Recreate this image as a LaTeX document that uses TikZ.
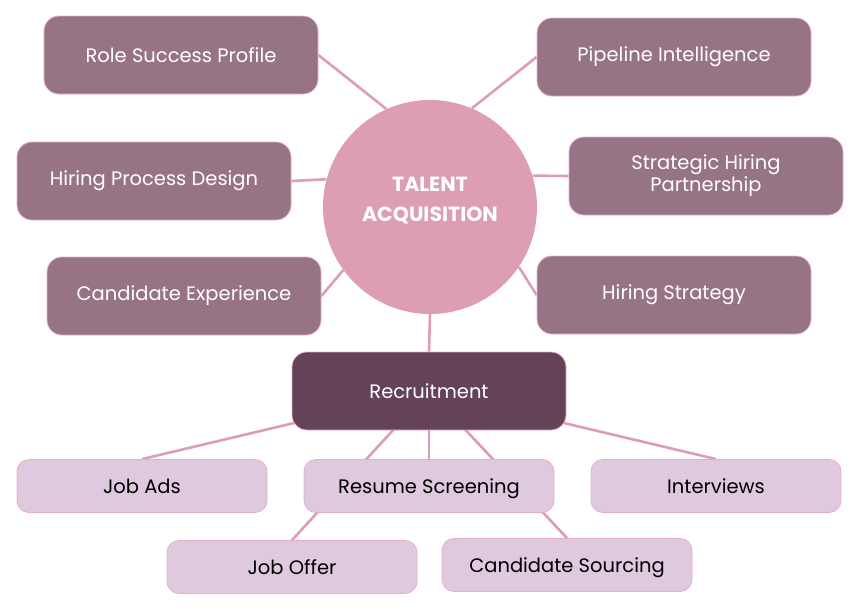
\documentclass[tikz,border=0pt]{standalone}
\usepackage{fontspec}
\setmainfont{Poppins}
\usetikzlibrary{backgrounds}

\definecolor{linkpink}{HTML}{DD9DB6}
\definecolor{hubpink}{HTML}{DC9DB5}
\definecolor{mauve}{HTML}{967486}
\definecolor{plum}{HTML}{644358}
\definecolor{lilac}{HTML}{DFC9DE}
\definecolor{rimpink}{HTML}{E6AFC6}

\begin{document}
\begin{tikzpicture}[x=1pt, y=-1pt,
    hub/.style={circle, fill=hubpink, minimum size=214pt},
    hubtext/.style={text=white, font=\fontsize{20.5}{30}\selectfont\bfseries, align=center},
    topic/.style={rectangle, rounded corners=15pt, fill=mauve, draw=rimpink,
        line width=0.8pt, minimum width=274pt, minimum height=78pt, text=white,
        font=\fontsize{19.5}{22}\selectfont, align=center},
    branch/.style={topic, fill=plum},
    leaf/.style={rectangle, rounded corners=12pt, fill=lilac, draw=rimpink,
        line width=0.8pt, minimum width=250pt, minimum height=53pt, text=black,
        text height=16pt, text depth=2pt, font=\fontsize{19.5}{22}\selectfont},
    link/.style={draw=linkpink, line width=2.6pt}]
    \useasboundingbox (0,0) rectangle (860,611);

    % Central topic
    \node[hub] (ta) at (430,207) {};
    \node[hubtext] (talbl) at (430,201) {TALENT\\ACQUISITION};

    % Topics round the circle
    \node[topic] (rsp) at (181,55) {Role Success Profile};
    \node[topic] (pint) at (674,57) {Pipeline Intelligence};
    \node[topic] (hpd) at (154,181) {Hiring Process Design};
    \node[topic] (shp) at (706,176) {Strategic Hiring\\Partnership};
    \node[topic] (cex) at (184,296) {Candidate Experience};
    \node[topic] (hst) at (674,295) {Hiring Strategy};

    % Recruitment and its steps
    \node[branch] (rec) at (429,391) {Recruitment};
    \node[leaf] (jads) at (142,486) {Job Ads};
    \node[leaf] (rscr) at (429,486) {Resume Screening};
    \node[leaf] (intv) at (716,486) {Interviews};
    \node[leaf] (joff) at (292,567) {Job Offer};
    \node[leaf] (csrc) at (567,565) {Candidate Sourcing};

    % Draw the links behind the boxes
    \begin{scope}[on background layer]
        \draw[link] (rsp.east) -- (ta.114);
        \draw[link] (pint.west) -- (ta.67);
        \draw[link] (hpd.east) -- (ta.165);
        \draw[link] (shp.west) -- (ta.17);
        \draw[link] (cex.east) -- (ta.216);
        \draw[link] (hst.west) -- (ta.326);
        \draw[link] (ta.south) -- (rec.north);
        \draw[link] (rec.center) -- (jads.north);
        \draw[link] (rec.center) -- (rscr.north);
        \draw[link] (rec.center) -- (intv.north);
        \draw[link] (rec.center) -- (joff.north);
        \draw[link] (rec.center) -- (csrc.north);
    \end{scope}
\end{tikzpicture}
\end{document}
